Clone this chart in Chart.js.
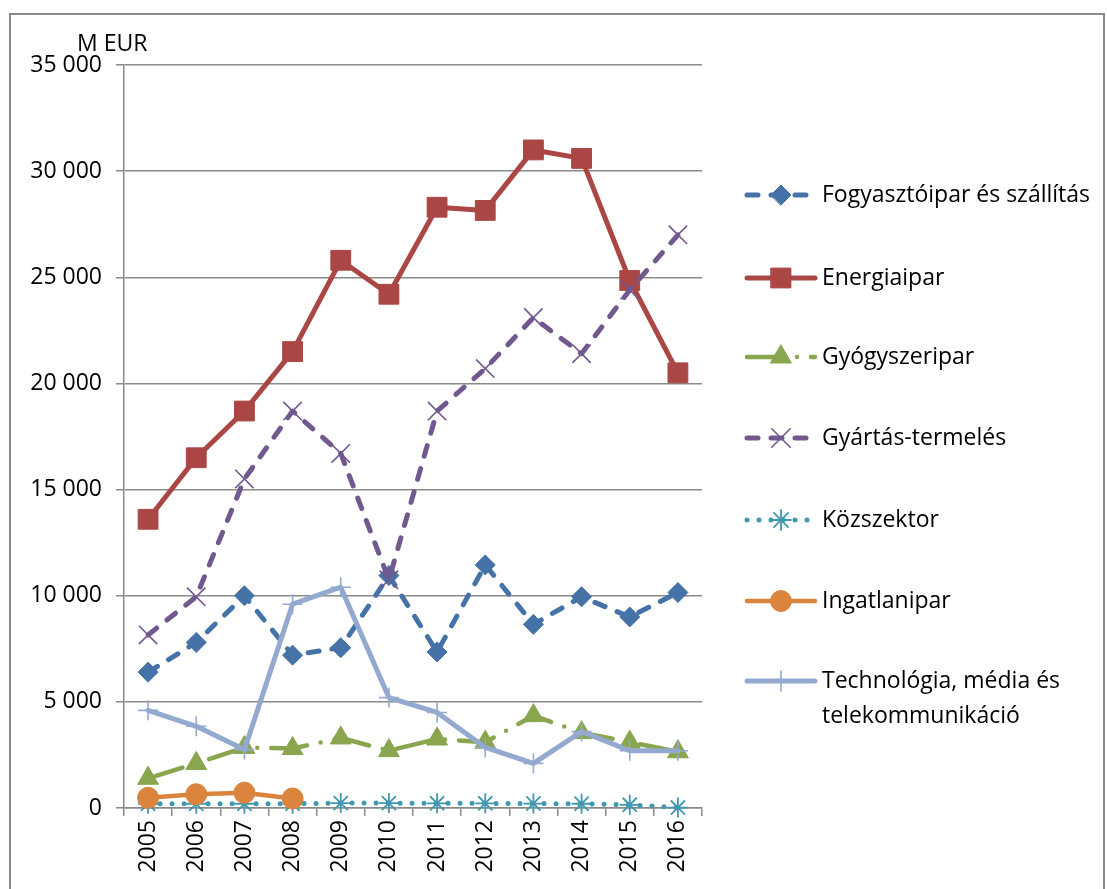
<!DOCTYPE html>
<html>
<head>
<meta charset="utf-8">
<script src="https://cdn.jsdelivr.net/npm/chart.js@4/dist/chart.umd.min.js"></script>
<style>
  html, body { margin: 0; padding: 0; background: #fff; }
  #wrap { width: 1107px; height: 889px; }
</style>
</head>
<body>
<div id="wrap"><canvas id="chart" width="1107" height="889"></canvas></div>
<script>
// -------------------------------
// DATA (M EUR)
// -------------------------------
const years = ["2005", "2006", "2007", "2008", "2009", "2010", "2011", "2012", "2013", "2014", "2015", "2016"];

const fogyasztoipar = [6400, 7800, 10000, 7200, 7550, 10950, 7350, 11450, 8650, 9950, 9000, 10150];
const energiaipar   = [13600, 16500, 18700, 21500, 25800, 24200, 28300, 28150, 31000, 30600, 24850, 20500];
const gyogyszeripar = [1400, 2100, 2850, 2800, 3300, 2700, 3250, 3100, 4350, 3550, 3100, 2650];
const gyartas       = [8150, 9950, 15500, 18700, 16700, 10750, 18700, 20700, 23100, 21400, 24400, 27000];
const kozszektor    = [200, 200, 200, 200, 230, 230, 220, 220, 210, 200, 150, 20];
const ingatlanipar  = [480, 650, 720, 450, null, null, null, null, null, null, null, null];
const technologia   = [4600, 3850, 2750, 9600, 10400, 5200, 4500, 2850, 2100, 3600, 2700, 2700];

const seriesNames = [
    "Fogyasztóipar és szállítás",
    "Energiaipar",
    "Gyógyszeripar",
    "Gyártás-termelés",
    "Közszektor",
    "Ingatlanipar",
    ["Technológia, média és", "telekommunikáció"]
];

const yMax = 35000;
const yStep = 5000;

const FONT = "'Open Sans', 'DejaVu Sans', sans-serif";
const FONT_SIZE = 23;
const GRID = "#8a8a8a";

// -------------------------------
// SERIES STYLES
// -------------------------------
function series(label, data, color, opts) {
    return Object.assign({
        label: label,
        data: data,
        borderColor: color,
        backgroundColor: color,
        pointBackgroundColor: color,
        pointBorderColor: color,
        borderWidth: 5,
        pointBorderWidth: 1,
        tension: 0,
        borderCapStyle: "round",
        borderJoinStyle: "round",
        spanGaps: false,
        clip: false
    }, opts);
}

const datasets = [
    series(seriesNames[0], fogyasztoipar, "#4572A7", { borderDash: [11, 13], pointStyle: "rectRot", pointRadius: 10 }),
    series(seriesNames[1], energiaipar, "#AA4643", { pointStyle: "rect", pointRadius: 14 }),
    series(seriesNames[2], gyogyszeripar, "#89A54E", { borderWidth: 4.5, borderDash: [36, 14, 0, 14], pointStyle: "triangle", pointRadius: 12 }),
    series(seriesNames[3], gyartas, "#71588F", { borderDash: [11, 13], pointStyle: "crossRot", pointRadius: 13, pointBorderWidth: 1.6 }),
    series(seriesNames[4], kozszektor, "#4198AF", { borderDash: [0, 12], pointStyle: "star", pointRadius: 10, pointBorderWidth: 1.8 }),
    series(seriesNames[5], ingatlanipar, "#DB843D", { borderWidth: 4.5, pointStyle: "circle", pointRadius: 10.5 }),
    series("Technológia, média és telekommunikáció", technologia, "#93A9CF", { pointStyle: "cross", pointRadius: 10, pointBorderWidth: 1.6 })
];

// later series drawn on top
datasets.forEach((d, i) => d.order = datasets.length - i);

function spaced(v) {
    return String(v).replace(/\B(?=(\d{3})+(?!\d))/g, " ");
}

// -------------------------------
// FRAME, AXIS TITLE, LEGEND
// -------------------------------
const decorPlugin = {
    id: "decor",
    beforeDraw(chart) {
        const ctx = chart.ctx;
        ctx.save();
        ctx.fillStyle = "#fff";
        ctx.fillRect(0, 0, chart.width, chart.height);
        ctx.strokeStyle = "#8a8a8a";
        ctx.lineWidth = 2;
        ctx.strokeRect(10, 14, 1094, 900);
        ctx.restore();
    },
    afterDraw(chart) {
        const ctx = chart.ctx;
        ctx.save();
        ctx.fillStyle = "#000";
        ctx.font = FONT_SIZE + "px " + FONT;
        ctx.textBaseline = "middle";
        ctx.textAlign = "left";
        ctx.fillText("M EUR", 77, 44);

        // legend: line sample with marker, then the name
        const rowsY = [195, 278, 357, 438, 520, 601, 681];
        chart.data.datasets.forEach((ds, i) => {
            const y = rowsY[i];
            ctx.save();
            ctx.strokeStyle = ds.borderColor;
            ctx.lineWidth = ds.borderWidth;
            ctx.lineCap = "round";
            ctx.setLineDash(ds.borderDash || []);
            ctx.beginPath();
            ctx.moveTo(747, y);
            ctx.lineTo(815, y);
            ctx.stroke();
            ctx.setLineDash([]);
            ctx.fillStyle = ds.pointBackgroundColor;
            ctx.strokeStyle = ds.pointBorderColor;
            ctx.lineWidth = ds.pointBorderWidth;
            Chart.helpers.drawPoint(ctx, {
                pointStyle: ds.pointStyle,
                radius: ds.pointRadius,
                rotation: 0,
                borderWidth: ds.pointBorderWidth
            }, 781, y);
            ctx.restore();

            const name = seriesNames[i];
            const lines = Array.isArray(name) ? name : [name];
            lines.forEach((t, k) => ctx.fillText(t, 822, y + k * 35));
        });
        ctx.restore();
    }
};

// -------------------------------
// CHART
// -------------------------------
new Chart(document.getElementById("chart"), {
    type: "line",
    data: { labels: years, datasets: datasets },
    options: {
        responsive: false,
        animation: false,
        events: [],
        layout: { padding: { top: 65, right: 405, bottom: 0, left: 0 } },
        plugins: {
            legend: { display: false },
            tooltip: { enabled: false }
        },
        scales: {
            x: {
                type: "category",
                offset: true,
                afterFit: s => { s.height = 81; },
                border: { color: GRID, width: 1.5 },
                grid: {
                    offset: true,
                    drawOnChartArea: false,
                    drawTicks: true,
                    tickLength: 8,
                    color: GRID,
                    lineWidth: 1.5
                },
                ticks: {
                    color: "#000",
                    font: { family: FONT, size: FONT_SIZE },
                    minRotation: 90,
                    maxRotation: 90,
                    autoSkip: false,
                    padding: 4
                }
            },
            y: {
                min: 0,
                max: yMax,
                afterFit: s => { s.width = 124; },
                border: { color: GRID, width: 1.5 },
                grid: {
                    color: GRID,
                    lineWidth: 1.5,
                    drawTicks: true,
                    tickLength: 8
                },
                ticks: {
                    stepSize: yStep,
                    color: "#000",
                    font: { family: FONT, size: FONT_SIZE },
                    padding: 14,
                    callback: v => spaced(v)
                }
            }
        }
    },
    plugins: [decorPlugin]
});
</script>
</body>
</html>
